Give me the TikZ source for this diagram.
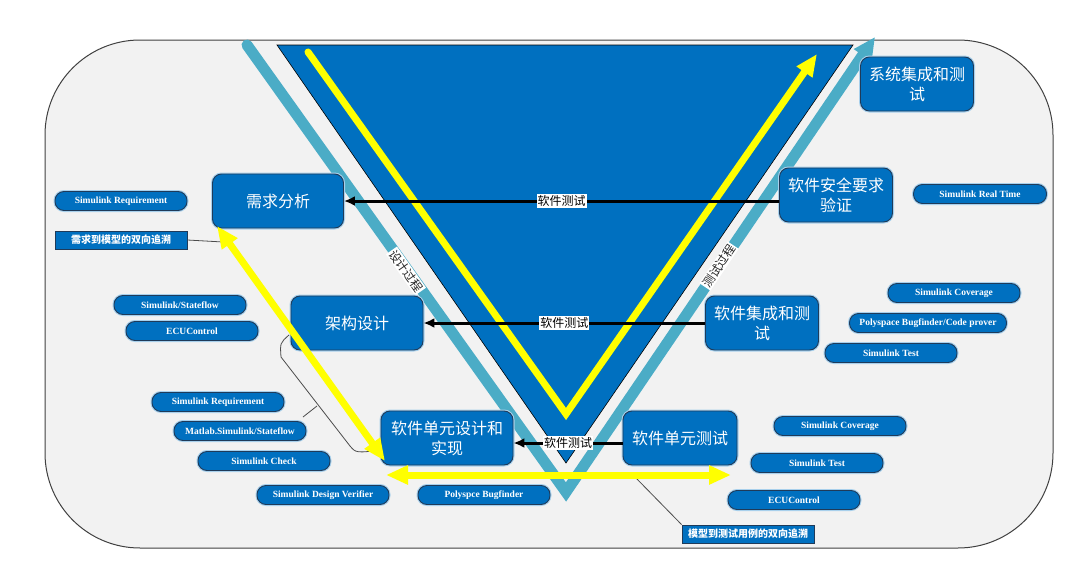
\documentclass[tikz,border=0pt]{standalone}
\usepackage{fontspec}
\setmainfont{Liberation Serif}
\newfontfamily\cjk{Noto Sans CJK SC}
\usetikzlibrary{arrows.meta}
\definecolor{vblue}{HTML}{0070C0}
\definecolor{vteal}{HTML}{4BACC6}
\definecolor{vyel}{HTML}{FFFF00}
\definecolor{vbg}{HTML}{F2F2F2}
\definecolor{vedge}{HTML}{1F3B5A}
\definecolor{vglow}{HTML}{A8D0EC}
\begin{document}
\begin{tikzpicture}[x=1pt,y=-1pt,
 stagebox/.style={rounded corners=9pt, fill=vblue, draw=vedge, line width=0.9pt, preaction={draw=vglow,line width=3pt}, text=white, font=\cjk\fontsize{16}{20}\selectfont, align=center, inner sep=2pt, minimum height=54pt},
 toolpill/.style={rounded corners=9pt, fill=vblue, draw=vedge, line width=0.9pt, preaction={draw=vglow,line width=3pt}, text=white, font=\bfseries\fontsize{9.5}{11}\selectfont, minimum width=132pt, minimum height=19pt, inner sep=0pt},
 tracebox/.style={rectangle, fill=vblue, draw=vedge, line width=0.8pt, text=white, font=\cjk\bfseries\fontsize{10}{12}\selectfont, minimum width=132pt, minimum height=18pt, inner sep=0pt},
 testarrow/.style={line width=3pt, arrows={-Latex[length=11pt,width=10pt]}},
 testlabel/.style={fill=white, inner sep=1pt, font=\cjk\fontsize{12}{14}\selectfont, text=black},
 yelarrow/.style={draw=vyel, line width=7pt, arrows={Triangle[length=22pt,width=18pt]-Triangle[length=22pt,width=18pt]}},
 thinline/.style={draw=black!70, line width=0.8pt},
 proclabel/.style={fill=white, inner sep=1.2pt, font=\cjk\fontsize{12}{13}\selectfont, text=black!85}
]
\useasboundingbox (0,0) rectangle (1080,565);
% background panel
\draw[fill=vbg, draw=black!75, line width=1pt, rounded corners=95pt] (45,40) rectangle (1053,548);
% teal V
\draw[vteal, line width=11pt, line cap=round, line join=miter, arrows={-Triangle[length=22pt,width=20pt]}] (247,45) -- (566,492) -- (875,37);
% blue triangle
\draw[fill=vblue, draw=black, line width=0.6pt] (277,45) -- (853,45) -- (566,463) -- cycle;
% yellow V
\draw[vyel, line width=7pt, line cap=round, line join=miter, arrows={-Triangle[length=22pt,width=18pt]}] (308,52) -- (566,414) -- (817,54);
% process labels
\node[proclabel, rotate=-54.8] (sjgc) at (406,271) {设计过程};
\node[proclabel, rotate=56] (csgc) at (719,266) {测试过程};
% stage boxes
\node[stagebox, minimum width=131pt] (xq) at (278,201) {需求分析};
\node[stagebox, minimum width=132pt] (jg) at (357,323) {架构设计};
\node[stagebox, minimum width=132pt] (sj) at (447,438) {软件单元设计和\\实现};
\node[stagebox, minimum width=114pt] (cs) at (680,438) {软件单元测试};
\node[stagebox, minimum width=113pt] (jc) at (762,323) {软件集成和测\\试};
\node[stagebox, minimum width=113pt] (aq) at (836,195) {软件安全要求\\验证};
\node[stagebox, minimum width=113pt] (xt) at (917,84) {系统集成和测\\试};
% test arrows
\draw[testarrow] (aq.west |- xq.east) -- (xq.east) node[midway, testlabel] {软件测试};
\draw[testarrow] (jc.west) -- (jg.east) node[midway, testlabel] {软件测试};
\draw[testarrow] ([yshift=-5pt]cs.west) -- ([yshift=-5pt]sj.east) node[midway, testlabel] {软件测试};
% tool pills
\node[toolpill] (p1) at (121,201) {Simulink Requirement};
\node[tracebox] (t1) at (121,240) {需求到模型的双向追溯};
\node[toolpill] (p2) at (180,305) {Simulink/Stateflow};
\node[toolpill] (p3) at (192,331) {ECUControl};
\node[toolpill] (p4) at (218,402) {Simulink Requirement};
\node[toolpill] (p5) at (240,431) {Matlab.Simulink/Stateflow};
\node[toolpill] (p6) at (264,461) {Simulink Check};
\node[toolpill] (p7) at (323,495) {Simulink Design Verifier};
\node[toolpill] (p8) at (484,495) {Polyspce Bugfinder};
\node[toolpill] (p9) at (840,426) {Simulink Coverage};
\node[toolpill] (p10) at (817,463) {Simulink Test};
\node[toolpill] (p11) at (794,500) {ECUControl};
\node[tracebox] (t2) at (748,534) {模型到测试用例的双向追溯};
\node[toolpill, minimum width=133pt] (p12) at (980,194) {Simulink Real Time};
\node[toolpill] (p13) at (954,293) {Simulink Coverage};
\node[toolpill, minimum width=157pt] (p14) at (928,323) {Polyspace Bugfinder/Code prover};
\node[toolpill] (p15) at (891,353) {Simulink Test};
% thin connectors
\coordinate (tr1) at (223,242);
\draw[thinline] (t1.east) -- (tr1);
\coordinate (tr2) at (635,477);
\draw[thinline] (tr2) -- (t2.north west);
\coordinate (br1) at (289,335);
\coordinate (br2) at (382,450);
\draw[thinline] (br1) .. controls (280,343) .. (281,357) -- (350,446) .. controls (356,453) .. (br2);
\coordinate (bt1) at (317,406);
\coordinate (bt2) at (303,417);
\draw[thinline] (bt1) -- (bt2);
% yellow double arrows
\coordinate (ya1) at (217,226);
\coordinate (ya2) at (385,461);
\draw[yelarrow] (ya1) -- (ya2);
\coordinate (yb1) at (386,475);
\coordinate (yb2) at (731,475);
\draw[yelarrow] (yb1) -- (yb2);
\end{tikzpicture}
\end{document}
